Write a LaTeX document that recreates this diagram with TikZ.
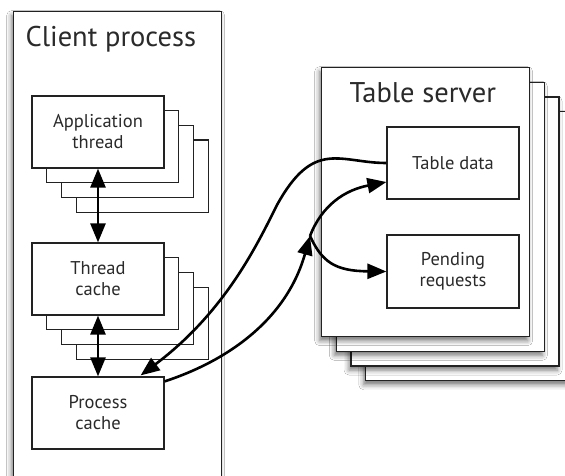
\documentclass[tikz,border=0pt]{standalone}
\usepackage{fontspec}
\setmainfont{PT Sans}
\usetikzlibrary{arrows.meta,calc,shadows.blur}
\definecolor{ln}{HTML}{222222}
\definecolor{tx}{HTML}{2A2A2A}
\begin{document}
\begin{tikzpicture}[x=1pt,y=-1pt,
  box/.style={draw=ln, line width=1.2pt, fill=white, minimum width=132pt, minimum height=72pt,
    inner sep=0pt, align=center, text=tx, font=\fontsize{18.5}{21}\selectfont},
  big/.style={draw=ln, line width=1.3pt, fill=white, minimum width=208pt, minimum height=269pt,
    inner sep=0pt, anchor=north west},
  shad/.style={blur shadow={shadow xshift=-2pt, shadow yshift=-4pt, shadow blur radius=5pt, shadow opacity=55}},
  title/.style={anchor=base west, text=tx, font=\fontsize{28.5}{32}\selectfont},
  conn/.style={line width=2.6pt, draw=black, -{Triangle[length=19pt,width=15pt]}},
  dbl/.style={line width=2.6pt, draw=black, {Triangle[length=19pt,width=15pt]}-{Triangle[length=19pt,width=15pt]}}]
\useasboundingbox (0,0) rectangle (565,476);
\clip (0,0) rectangle (565,476);
\fill[white] (0,0) rectangle (565,476);
% Client process
\node[big, shad, minimum height=490pt] (cp) at (13,11) {};
\node[title] (cpt) at (22,47) {Client process};
% Application thread stack
\node[box] (at4) at (142.1,176.1) {};
\node[box] (at3) at (127.4,161.4) {};
\node[box] (at2) at (112.7,146.7) {};
\node[box] (at1) at (98,132) {Application\\thread};
% Thread cache stack
\node[box] (tc4) at (142.1,323.1) {};
\node[box] (tc3) at (127.4,308.4) {};
\node[box] (tc2) at (112.7,293.7) {};
\node[box] (tc1) at (98,279) {Thread\\cache};
% Process cache
\node[box] (pc) at (98,413) {Process\\cache};
% Table server stack
\node[big, shad] (ts4) at (365.1,111.1) {};
\node[big, shad] (ts3) at (350.4,96.4) {};
\node[big, shad] (ts2) at (335.7,81.7) {};
\node[big, shad] (ts1) at (321,67) {};
\node[title] (tst) at (346,103) {Table server};
\node[box] (td) at (453,163) {Table data};
\node[box, minimum height=73pt] (pr) at (453,271.5) {Pending\\requests};
% connectors
\draw[dbl] (at1.south) -- (tc1.north);
\draw[dbl] (tc1.south) -- (pc.north);
\coordinate (br) at (310,236);
\draw[conn] (td.west) .. controls (340,163) and (314,138) .. (277,205)
  .. controls (257,245) and (225,312) .. ($(pc.north east)+(-24,-1)$);
\draw[conn] ($(pc.north east)+(0,5)$) .. controls (230,360) and (287,318) .. (br);
\draw[conn] (br) .. controls (322,205) and (345,190) .. ($(td.west)+(0,19)$);
\draw[conn] (br) .. controls (322,262) and (335,271) .. (pr.west);
\end{tikzpicture}
\end{document}
